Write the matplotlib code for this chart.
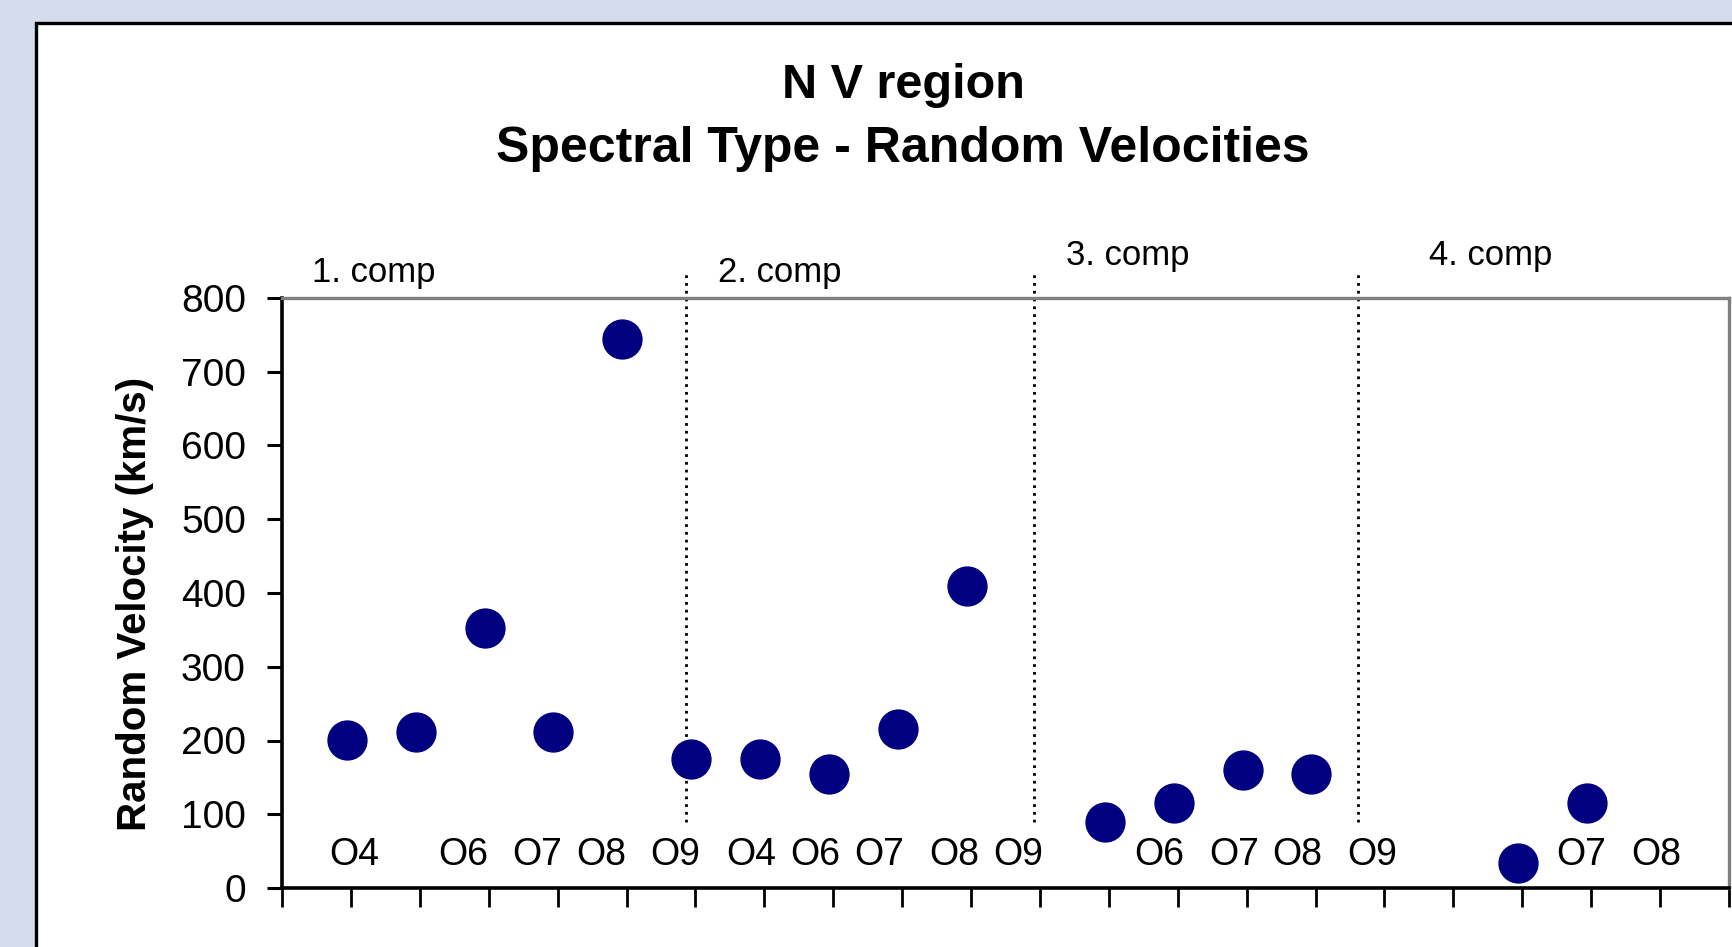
import matplotlib
matplotlib.use("Agg")
import matplotlib.pyplot as plt
from matplotlib.patches import Rectangle

plt.rcParams['font.family'] = ['Liberation Sans', 'DejaVu Sans']

# ---- data ----
positions = [0.94, 1.94, 2.94, 3.94, 4.94, 5.94, 6.94, 7.94, 8.94, 9.94,
             11.94, 12.94, 13.94, 14.94, 17.94, 18.94]
velocities = [201, 211, 353, 211, 744, 175, 175, 155, 216, 410, 90, 115, 160, 155, 34, 115]

type_labels = ["O4", "O6", "O7", "O8", "O9", "O4", "O6", "O7", "O8", "O9",
               "O6", "O7", "O8", "O9", "O7", "O8"]
type_label_x = [1.05, 2.63, 3.70, 4.64, 5.71, 6.81, 7.74, 8.66, 9.75, 10.68,
                12.73, 13.82, 14.73, 15.82, 18.86, 19.94]
type_label_y = 45

comp_labels = ["1. comp", "2. comp", "3. comp", "4. comp"]
comp_label_x = [0.43, 6.33, 11.38, 16.65]
comp_label_y = [835, 835, 858, 858]

divider_x = [5.87, 10.91, 15.62]
divider_ymin, divider_ymax = 90, 838

yticks = [0, 100, 200, 300, 400, 500, 600, 700, 800]
xticks = list(range(0, 22))

# ---- figure ----
W, H = 1732, 947
fig = plt.figure(figsize=(W / 100, H / 100), dpi=100)
fig.patch.set_facecolor('#d5dcec')

bg = fig.add_axes([0, 0, 1, 1], zorder=-10)
bg.set_xlim(0, W)
bg.set_ylim(H, 0)
bg.axis('off')
bg.add_patch(Rectangle((36, 23), 3000, 3000, facecolor='white', edgecolor='black',
                       linewidth=2.4))

ax = fig.add_axes([282 / W, 1 - 888 / H, (1729 - 282) / W, (888 - 298) / H], zorder=1)
ax.set_facecolor('white')
ax.set_xlim(0, 21)
ax.set_ylim(0, 800)

ax.plot(positions, velocities, linestyle='none', marker='o', markersize=28,
        color='#000080', markeredgecolor='#000080', clip_on=False, zorder=3)

for lab, x in zip(type_labels, type_label_x):
    ax.text(x, type_label_y, lab, ha='center', va='center', fontsize=27, color='black')

for lab, x, y in zip(comp_labels, comp_label_x, comp_label_y):
    ax.text(x, y, lab, ha='left', va='center', fontsize=25, color='black', clip_on=False)

for x in divider_x:
    ax.plot([x, x], [divider_ymin, divider_ymax], linestyle=(0, (1, 1.8)), color='black',
            linewidth=2.0, clip_on=False, zorder=2)

ax.set_yticks(yticks)
ax.set_yticklabels([str(v) for v in yticks])
ax.set_xticks(xticks)
ax.set_xticklabels([])
ax.tick_params(axis='y', direction='out', length=11, width=2.2, labelsize=28, pad=15)
ax.tick_params(axis='x', direction='out', length=14, width=2.0)

for side in ['left', 'bottom']:
    ax.spines[side].set_color('black')
    ax.spines[side].set_linewidth(2.6)
for side in ['top', 'right']:
    ax.spines[side].set_color('#808080')
    ax.spines[side].set_linewidth(2.4)

fig.text(903 / W, 1 - 86 / H, "N V region", ha='center', va='center',
         fontsize=35, fontweight='bold')
fig.text(903 / W, 1 - 149 / H, "Spectral Type - Random Velocities", ha='center', va='center',
         fontsize=36, fontweight='bold')
fig.text(135 / W, 1 - 604 / H, "Random Velocity (km/s)", ha='center', va='center',
         rotation=90, fontsize=29, fontweight='bold')

fig.savefig("out.png", dpi=100, facecolor=fig.get_facecolor())
